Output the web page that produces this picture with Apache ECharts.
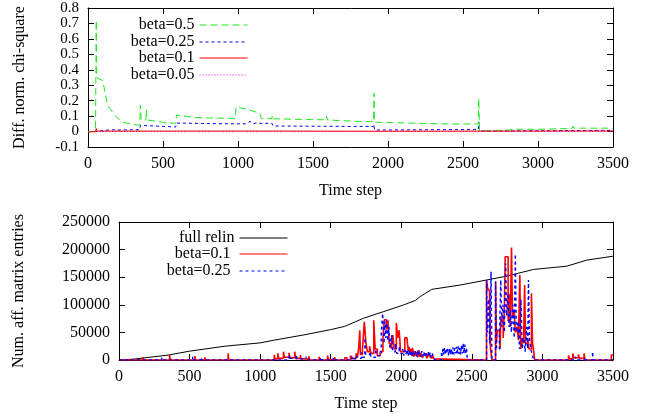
<!DOCTYPE html>
<html>
<head>
<meta charset="utf-8">
<script src="https://cdn.jsdelivr.net/npm/echarts@6/dist/echarts.min.js"></script>
<style>
html, body { margin: 0; padding: 0; background: #fff; }
#chart { width: 645px; height: 416px; }
</style>
</head>
<body>
<div id="chart"></div>
<script>
/* top panel: difference of normalized chi-square, [time step, value] */
var chiBeta05 = [[0,0],[50,0],[55,0.72],[58,0.35],[98,0.33],[131,0.17],[178,0.107],[222,0.063],[300,0.045],[345,0.042],[349,0.17],[355,0.075],[386,0.075],[389,0.14],[395,0.075],[500,0.06],[585,0.053],[590,0.107],[700,0.092],[800,0.088],[982,0.085],[987,0.16],[1080,0.139],[1145,0.118],[1155,0.085],[1226,0.085],[1229,0.105],[1235,0.083],[1400,0.079],[1587,0.076],[1590,0.1],[1596,0.075],[1800,0.066],[1904,0.064],[1907,0.247],[1910,0.06],[2100,0.056],[2350,0.05],[2602,0.049],[2605,0.215],[2610,0.004],[2700,0.006],[2810,0.01],[2830,0.015],[3000,0.015],[3228,0.02],[3232,0.035],[3240,0.022],[3500,0.022]];
var chiBeta025 = [[0,0],[50,0],[100,0.005],[150,0.012],[200,0.01],[345,0.012],[349,0.04],[360,0.03],[585,0.03],[590,0.055],[800,0.052],[985,0.05],[1050,0.05],[1080,0.065],[1100,0.05],[1130,0.058],[1145,0.053],[1226,0.053],[1229,0.063],[1235,0.036],[1600,0.034],[1904,0.033],[1907,0.046],[1910,0.01],[2300,0.012],[2602,0.014],[2605,0.063],[2610,0.003],[3000,0.005],[3500,0.008]];
var chiBeta01 = [[0,-0.003],[50,0],[55,0.02],[60,0.003],[1226,0.003],[1229,0.012],[1232,0.002],[1904,0.002],[1907,0.01],[1910,0.002],[3500,0.004]];
var chiBeta005 = [[0,0],[1000,0.001],[2000,0.001],[3500,0.001]];

/* bottom panel: number of affected matrix entries */
var fullRelin = [[0,0],[100,1500],[200,4500],[350,9000],[500,16000],[750,25000],[1000,31000],[1100,36000],[1300,45000],[1500,55000],[1600,61000],[1731,75500],[1873,87500],[2015,99600],[2100,108000],[2133,114700],[2216,128000],[2417,135800],[2606,145000],[2748,152000],[2936,164000],[3173,170000],[3315,181000],[3499,188000]];
/* [start step, value] held until the next entry */
var entBeta01 = [[0,0],[168,5000],[174,0],[358,9000],[364,0],[537,7000],[542,0],[608,5000],[613,0],[773,12000],[778,0],
	[1100,9000],[1106,2000],[1125,12000],[1131,3000],[1165,15000],[1171,5000],[1205,13000],[1211,4000],[1245,15000],[1251,3000],[1285,9000],[1290,2000],[1345,7000],[1350,0],[1418,6000],[1423,0],[1478,8000],[1483,1000],[1528,5000],[1533,0],
	[1600,4000],[1615,0],[1640,8000],[1650,3000],[1680,12000],[1690,5000],[1700,27000],[1706,54000],[1710,10000],[1725,20000],[1738,69000],[1750,30000],[1760,15000],[1775,25000],[1785,12000],[1805,72000],[1815,20000],[1830,8000],[1850,15000],[1870,40000],[1880,73000],[1895,55000],[1905,72000],[1915,30000],[1930,20000],[1940,45000],[1950,20000],[1965,67000],[1975,40000],[1985,54000],[1995,15000],[2025,40000],[2040,38000],[2050,15000],[2056,24000],[2062,10000],[2068,20000],[2074,8000],[2080,22000],[2088,6000],[2094,16000],[2100,8000],[2110,14000],[2118,5000],[2125,18000],[2132,6000],[2140,12000],[2150,4000],[2160,10000],[2170,12000],[2180,3000],[2190,8000],[2205,4000],[2220,9000],[2230,2000],[2240,0],
	[2604,145000],[2612,130000],[2625,125000],[2632,20000],[2642,0],[2668,142000],[2674,30000],[2680,54000],[2695,57000],[2700,20000],[2705,78000],[2722,40000],[2730,90000],[2736,187000],[2757,70000],[2765,120000],[2772,60000],[2781,204000],[2788,76000],[2800,90000],[2808,50000],[2820,60000],[2830,36000],[2840,154000],[2846,20000],[2860,40000],[2866,30000],[2874,136000],[2880,30000],[2895,40000],[2905,20000],[2922,121000],[2930,30000],[2936,21000],[2945,0],
	[3185,8000],[3192,2000],[3215,12000],[3222,4000],[3255,10000],[3262,3000],[3295,12000],[3302,0],[3488,9000],[3500,9000]];
var entBeta025 = [[0,0],[302,4000],[307,0],[522,6000],[527,0],[582,5000],[587,0],
	[1205,8000],[1210,3000],[1255,10000],[1260,2000],[1325,6000],[1330,0],[1428,5000],[1433,0],[1518,4000],[1523,0],
	[1650,6000],[1665,2000],[1680,8000],[1690,3000],[1718,14000],[1725,5000],[1742,40000],[1748,10000],[1778,15000],[1785,5000],[1818,20000],[1825,8000],[1858,50000],[1868,84500],[1878,30000],[1884,70000],[1890,40000],[1896,73000],[1904,35000],[1912,60000],[1920,20000],[1932,45000],[1940,15000],[1958,30000],[1968,12000],[1985,25000],[1995,12000],[2010,20000],[2018,8000],[2025,18000],[2032,10000],[2040,19000],[2048,7000],[2055,18000],[2062,8000],[2070,16000],[2078,6000],[2085,17000],[2092,9000],[2100,16000],[2108,6000],[2115,17000],[2122,8000],[2130,15000],[2138,6000],[2145,16000],[2152,7000],[2160,15000],[2168,5000],[2175,14000],[2182,8000],[2190,15000],[2198,6000],[2205,14000],[2212,5000],[2220,12000],[2228,4000],[2240,0],
	[2285,15000],[2290,8000],[2295,20000],[2300,10000],[2306,22000],[2312,9000],[2318,21000],[2324,12000],[2330,20000],[2336,8000],[2342,22000],[2348,10000],[2354,20000],[2360,9000],[2366,23000],[2372,10000],[2378,21000],[2384,12000],[2390,24000],[2396,10000],[2402,25000],[2408,11000],[2414,22000],[2420,10000],[2426,26000],[2432,12000],[2438,30000],[2444,12000],[2450,28000],[2456,10000],[2462,22000],[2468,0],
	[2604,145000],[2610,50000],[2618,110000],[2626,30000],[2636,160000],[2642,0],[2668,142000],[2675,20000],[2695,40000],[2705,145000],[2712,60000],[2720,100000],[2730,50000],[2740,175000],[2746,80000],[2756,120000],[2764,60000],[2772,90000],[2780,50000],[2790,100000],[2800,40000],[2808,192000],[2815,50000],[2828,70000],[2838,20000],[2848,110000],[2856,20000],[2868,40000],[2878,15000],[2888,60000],[2896,20000],[2901,145000],[2908,40000],[2918,20000],[2928,10000],[2938,0],
	[3235,6000],[3242,0],[3298,5000],[3303,0],[3355,15000],[3360,0],[3500,0]];

var FONT = 'Liberation Serif';
var txt = { fontFamily: FONT, fontSize: 16, color: '#000' };

function xAx(grid, pos, show) {
	return {
		type: 'value', gridIndex: grid, position: pos, min: 0, max: 3500, interval: 500,
		name: show ? 'Time step' : '', nameLocation: 'middle', nameGap: 36,
		nameTextStyle: txt,
		axisLine: { onZero: false, lineStyle: { color: '#000', width: 1 } },
		axisTick: { inside: true, length: 6, lineStyle: { color: '#000' } },
		axisLabel: { show: show, margin: 9, fontFamily: FONT, fontSize: 16, color: '#000', interval: 0,
			showMinLabel: true, showMaxLabel: true, formatter: function (v) { return String(v); } },
		splitLine: { show: false }
	};
}

function yAx(grid, pos, show, opt, fmt, size) {
	return Object.assign({
		type: 'value', gridIndex: grid, position: pos,
		nameLocation: 'middle', nameTextStyle: txt,
		axisLine: { show: true, onZero: false, lineStyle: { color: '#000', width: 1 } },
		axisTick: { show: true, inside: true, length: 6, lineStyle: { color: '#000' } },
		axisLabel: { show: show, margin: 9, fontFamily: FONT, fontSize: size || 16, lineHeight: 14, color: '#000',
			interval: 0, hideOverlap: false, formatter: fmt },
		splitLine: { show: false }
	}, opt);
}

function line(name, data, color, type, xi, yi, step, w) {
	return {
		name: name, type: 'line', data: data, xAxisIndex: xi, yAxisIndex: yi,
		symbol: 'none', animation: false, step: step || false,
		lineStyle: { color: color, width: w || 1, type: type },
		itemStyle: { color: color }
	};
}

function leg(name, right, top) {
	return {
		data: [name], right: right, top: top, align: 'right', orient: 'vertical',
		itemWidth: 48, itemHeight: 14, itemGap: 8, padding: 0,
		itemStyle: { opacity: 0 },
		lineStyle: { width: 1 },
		textStyle: { fontFamily: FONT, fontSize: 16, color: '#000' },
		selectedMode: false
	};
}

var chiFmt = function (v) { return Math.abs(v) < 1e-9 ? '0' : String(+v.toFixed(1)); };
var entFmt = function (v) { return String(Math.round(v)); };
var GREEN = '#1ee81e', BLUE = '#0000ff', RED = '#ff0000', PINK = '#ff00ff';

var chart = echarts.init(document.getElementById('chart'));
chart.setOption({
	backgroundColor: '#fff',
	animation: false,
	grid: [
		{ left: 88, top: 8, right: 32, height: 139 },
		{ left: 119, top: 222, right: 32, height: 138 }
	],
	xAxis: [xAx(0, 'bottom', true), xAx(0, 'top', false), xAx(1, 'bottom', true), xAx(1, 'top', false)],
	yAxis: [
		yAx(0, 'left', true, { min: -0.1, max: 0.8, interval: 0.1, name: 'Diff. norm. chi-square', nameGap: 60 }, chiFmt, 15),
		yAx(0, 'right', false, { min: -0.1, max: 0.8, interval: 0.1 }, chiFmt),
		yAx(1, 'left', true, { min: 0, max: 250000, interval: 50000, name: 'Num. aff. matrix entries', nameGap: 92 }, entFmt),
		yAx(1, 'right', false, { min: 0, max: 250000, interval: 50000 }, entFmt)
	],
	legend: [
		leg('beta=0.5', 397, 17),
		leg('beta=0.25', 397, 34),
		leg('beta=0.1', 397, 50),
		leg('beta=0.05', 397, 67),
		leg('full relin', 357, 230),
		leg('beta=0.1 ', 357, 246),
		leg('beta=0.25 ', 357, 263)
	],
	series: [
		line('beta=0.05', chiBeta005, PINK, [1, 2], 0, 0),
		line('beta=0.25', chiBeta025, BLUE, [3, 3], 0, 0),
		line('beta=0.5', chiBeta05, GREEN, [7, 4], 0, 0),
		line('beta=0.1', chiBeta01, RED, 'solid', 0, 0),
		line('full relin', fullRelin, '#000', 'solid', 2, 2),
		line('beta=0.1 ', entBeta01, RED, 'solid', 2, 2, 'end', 1.6),
		line('beta=0.25 ', entBeta025, BLUE, [3, 3], 2, 2, 'end', 1.4)
	]
});
</script>
</body>
</html>
